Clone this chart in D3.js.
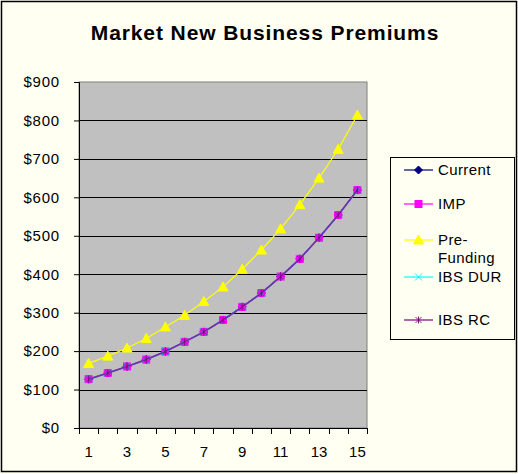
<!DOCTYPE html>
<html><head><meta charset="utf-8">
<script src="https://cdn.jsdelivr.net/npm/d3@7"></script>
<style>body{margin:0;background:#fff}svg{display:block}text{font-family:Arial,"Liberation Sans",sans-serif}</style>
</head><body><svg id="c" width="518" height="474"></svg>
<script>
const categories = [1,2,3,4,5,6,7,8,9,10,11,12,13,14,15];
const tickLabels = ["1","3","5","7","9","11","13","15"];
const yTicks = [0,100,200,300,400,500,600,700,800,900];
const current   = [127,143,160,178,199,224,250,281,315,351,394,440,495,554,619];
const imp       = [127,143,160,178,199,224,250,281,315,351,394,440,495,554,619];
const preFunding= [168,187,208,233,263,293,329,367,413,463,518,581,650,725,814];
const ibsDur    = [127,143,160,178,199,224,250,281,315,351,394,440,495,554,619];
const ibsRc     = [127,143,160,178,199,224,250,281,315,351,394,440,495,554,619];
const seriesNames = ["Current","IMP","Pre-Funding","IBS DUR","IBS RC"];

const series = [
  {name:"Current", values:current, color:"#000080", marker:"diamond"},
  {name:"IMP", values:imp, color:"#FF00FF", marker:"square"},
  {name:"Pre-Funding", values:preFunding, color:"#FFFF00", marker:"triangle"},
  {name:"IBS DUR", values:ibsDur, color:"#00FFFF", marker:"x"},
  {name:"IBS RC", values:ibsRc, color:"#800080", marker:"star"}
];

const svg = d3.select("#c");
const W=518,H=474;
svg.append("rect").attr("x",0).attr("y",0).attr("width",W).attr("height",H).attr("fill","#FFFFF2");
svg.append("rect").attr("x",1.5).attr("y",1.5).attr("width",W-3).attr("height",H-4).attr("fill","none").attr("stroke","#000").attr("stroke-width",1.5);

const L=79,R=367,T=82,B=428;
const x = d3.scaleBand().domain(categories).range([L,R]);
const xc = d => x(d)+x.bandwidth()/2;
const y = d3.scaleLinear().domain([0,900]).range([B,T]);

svg.append("text").attr("x",265).attr("y",40).attr("text-anchor","middle")
  .attr("font-size",21).attr("font-weight","bold").attr("letter-spacing",0.9).text("Market New Business Premiums");

svg.append("rect").attr("x",L).attr("y",T).attr("width",R-L).attr("height",B-T)
  .attr("fill","#C0C0C0").attr("stroke","#808080").attr("stroke-width",1);

// gridlines
svg.append("g").selectAll("line").data(yTicks.filter(v=>v>0&&v<900)).join("line")
  .attr("x1",L).attr("x2",R).attr("y1",d=>Math.round(y(d))+0.5).attr("y2",d=>Math.round(y(d))+0.5)
  .attr("stroke","#000").attr("stroke-width",1);

// y axis
const yAxis = d3.axisLeft(y).tickValues(yTicks).tickFormat(d=>"$"+d).tickSize(5).tickPadding(14);
const gy = svg.append("g").attr("transform",`translate(${L},0)`).call(yAxis);
gy.select(".domain").attr("stroke","#000");
gy.selectAll("text").attr("font-size",15).attr("letter-spacing",0.8).attr("font-family","Arial,'Liberation Sans',sans-serif").attr("fill","#000");

// x axis ticks at boundaries
const boundaries = categories.map(c=>x(c)).concat([R]);
const gx = svg.append("g");
gx.append("line").attr("x1",L).attr("x2",R).attr("y1",B+0.5).attr("y2",B+0.5).attr("stroke","#000");
gx.selectAll("line.t").data(boundaries).join("line").attr("class","t")
  .attr("x1",d=>Math.round(d)+0.5).attr("x2",d=>Math.round(d)+0.5).attr("y1",B).attr("y2",B+6).attr("stroke","#000");
gx.selectAll("text.l").data(tickLabels).join("text").attr("class","l")
  .attr("x",d=>xc(+d)).attr("y",457).attr("text-anchor","middle").attr("font-size",15).text(d=>d);

function drawMarker(g, type, color, cx, cy){
  if(type==="diamond"){
    g.append("path").attr("d",`M${cx},${cy-4}L${cx+4},${cy}L${cx},${cy+4}L${cx-4},${cy}Z`).attr("fill",color).attr("stroke",color);
  } else if(type==="square"){
    g.append("rect").attr("x",cx-3.5).attr("y",cy-3.5).attr("width",7).attr("height",7).attr("fill",color).attr("stroke",color);
  } else if(type==="triangle"){
    g.append("path").attr("d",`M${cx},${cy-5}L${cx+5},${cy+4}L${cx-5},${cy+4}Z`).attr("fill",color).attr("stroke",color);
  } else if(type==="x"){
    g.append("path").attr("d",`M${cx-3.5},${cy-3.5}L${cx+3.5},${cy+3.5}M${cx-3.5},${cy+3.5}L${cx+3.5},${cy-3.5}`).attr("stroke",color).attr("stroke-width",1);
  } else if(type==="star"){
    g.append("path").attr("d",`M${cx-3},${cy-3}L${cx+3},${cy+3}M${cx-3},${cy+3}L${cx+3},${cy-3}M${cx},${cy-3.5}L${cx},${cy+3.5}`).attr("stroke",color).attr("stroke-width",0.9);
  }
}

const line = d3.line().x((d,i)=>xc(categories[i])).y(d=>y(d));
series.forEach(s=>{
  const g = svg.append("g");
  g.append("path").datum(s.values).attr("d",line).attr("fill","none").attr("stroke",s.name==="IBS RC"?"#7030A0":s.color)
    .attr("stroke-width", s.name==="IBS RC"?1.6:1.2);
  s.values.forEach((v,i)=>drawMarker(g,s.marker,s.color,xc(categories[i]),y(v)));
});

// legend
svg.append("rect").attr("x",390.5).attr("y",157.5).attr("width",124).attr("height",182)
  .attr("fill","#FFFFF2").attr("stroke","#000").attr("stroke-width",1);
const legY = [170,204,240,277,320];
series.forEach((s,i)=>{
  const g = svg.append("g");
  const ly = legY[i];
  g.append("line").attr("x1",404).attr("x2",433).attr("y1",ly).attr("y2",ly).attr("stroke",s.color).attr("stroke-width",1.2);
  drawMarker(g,s.marker,s.color,418.5,ly);
  const t = g.append("text").attr("x",438).attr("font-size",15).attr("letter-spacing",0.4);
  if(s.name==="Pre-Funding"){
    g.append("text").attr("x",438).attr("y",ly+5).attr("font-size",15).attr("letter-spacing",0.4).text("Pre-");
    t.attr("y",ly+23).text("Funding");
  } else {
    t.attr("y",ly+5).text(s.name);
  }
});
</script></body></html>
